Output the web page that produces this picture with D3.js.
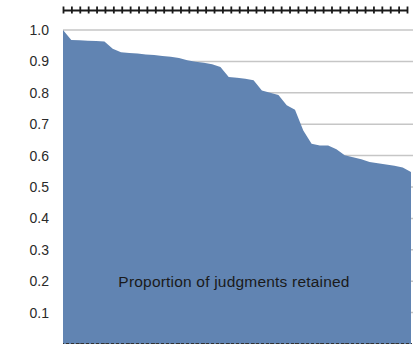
<!DOCTYPE html>
<html>
<head>
<meta charset="utf-8">
<script src="https://cdn.jsdelivr.net/npm/d3@7"></script>
<style>
  html, body { margin: 0; padding: 0; background: #fff; }
  svg { display: block; }
</style>
</head>
<body>
<div id="chart"></div>
<script>
// proportion retained, one value per category
const retained = [
  1.0, 0.968, 0.967, 0.966, 0.965, 0.963, 0.94, 0.929, 0.927, 0.925,
  0.922, 0.92, 0.917, 0.915, 0.911, 0.904, 0.899, 0.896, 0.891, 0.882,
  0.85, 0.848, 0.845, 0.84, 0.807, 0.8, 0.793, 0.76, 0.746, 0.68,
  0.638, 0.632, 0.632, 0.62, 0.601, 0.595, 0.588, 0.58, 0.576, 0.572,
  0.568, 0.562, 0.548
];
const yTicks = [0.1, 0.2, 0.3, 0.4, 0.5, 0.6, 0.7, 0.8, 0.9, 1.0];
const topTickCount = 42;
const label = "Proportion of judgments retained";

function draw() {
  const width = 414, height = 344;
  const svg = d3.select("#chart").append("svg")
    .attr("width", width)
    .attr("height", height);

  const xScale = d3.scaleLinear()
    .domain([0, retained.length - 1])
    .range([63, 411]);
  const yScale = d3.scaleLinear().domain([0, 1]).range([344, 30]);

  // gridlines
  svg.append("g")
    .selectAll("line")
    .data(yTicks)
    .enter()
    .append("line")
    .attr("x1", 63)
    .attr("x2", 413)
    .attr("y1", (d) => yScale(d))
    .attr("y2", (d) => yScale(d))
    .attr("stroke", "#c6c6c6")
    .attr("stroke-width", 1.5);

  // the area
  const area = d3.area()
    .x((d, i) => xScale(i))
    .y0(yScale(0))
    .y1((d) => yScale(d));
  svg.append("path")
    .datum(retained)
    .attr("fill", "#6184b2")
    .attr("d", area);

  // left labels
  const yAxis = d3.axisLeft(yScale)
    .tickValues(yTicks)
    .tickFormat(d3.format(".1f"))
    .tickSize(0)
    .tickPadding(0);
  const gy = svg.append("g")
    .attr("transform", "translate(49,0)")
    .call(yAxis);
  gy.select(".domain").remove();
  gy.selectAll("text")
    .attr("font-family", "Liberation Sans, Arial, sans-serif")
    .attr("font-size", 14)
    .attr("fill", "#2a2a2a");

  // top axis with many small ticks
  const topScale = d3.scaleLinear()
    .domain([0, topTickCount - 1])
    .range([63, 407]);
  const topAxis = d3.axisTop(topScale)
    .tickValues(d3.range(topTickCount))
    .tickSize(3)
    .tickSizeOuter(0)
    .tickFormat("");
  const gt = svg.append("g")
    .attr("transform", "translate(0,10)")
    .call(topAxis);
  gt.select(".domain").attr("stroke", "#1a1a1a").attr("stroke-width", 2);
  gt.selectAll(".tick line")
    .attr("stroke", "#1a1a1a")
    .attr("stroke-width", 1.8)
    .attr("y2", 3.5)
    .attr("y1", -3.5);

  // bottom axis peeking at the edge
  const bottomAxis = d3.axisBottom(xScale)
    .tickValues(d3.range(retained.length))
    .tickSize(3)
    .tickFormat("");
  const gb = svg.append("g")
    .attr("transform", "translate(0,343)")
    .call(bottomAxis);
  gb.select(".domain").attr("stroke", "#333").attr("stroke-dasharray", "3,2");
  gb.selectAll(".tick line").attr("stroke", "#333");

  // label inside the area
  svg.append("text")
    .attr("x", 234)
    .attr("y", 287)
    .attr("text-anchor", "middle")
    .attr("font-family", "Liberation Sans, Arial, sans-serif")
    .attr("font-size", 15.5)
    .attr("letter-spacing", 0.2)
    .attr("fill", "#1a1a1a")
    .text(label);
}

draw();
</script>
</body>
</html>
